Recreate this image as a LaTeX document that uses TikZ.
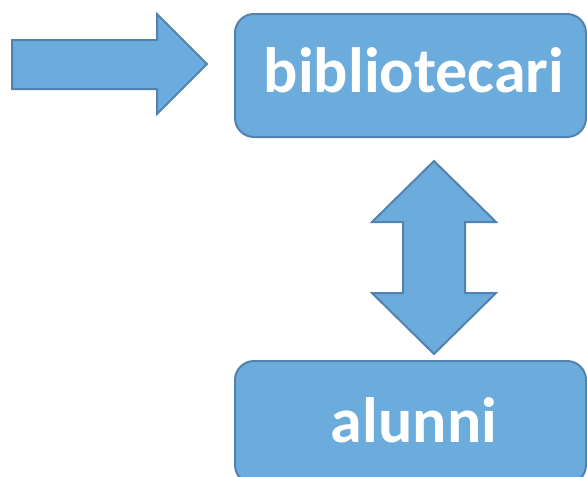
\documentclass[tikz,border=0pt]{standalone}
\usepackage{fontspec}
\setmainfont{Carlito}
\definecolor{boxfill}{RGB}{107,172,221}
\definecolor{boxline}{RGB}{82,131,176}
\begin{document}
\begin{tikzpicture}[x=1pt,y=-1pt,
  shapestyle/.style={fill=boxfill,draw=boxline,line width=2pt,line join=miter},
  boxstyle/.style={shapestyle,rounded corners=19pt,minimum width=351pt,minimum height=123pt,inner sep=0pt},
  labelstyle/.style={text=white,font=\bfseries\fontsize{64}{64}\selectfont,anchor=base,inner sep=0pt}]
\useasboundingbox (0,0) rectangle (587,477);
\node[boxstyle] (top) at (410.5,75.5) {};
\node[boxstyle] (bottom) at (410.5,422.5) {};
\node[labelstyle] (toplabel) at (414,92) {bibliotecari};
\node[labelstyle] (bottomlabel) at (414,442) {alunni};
% right arrow
\draw[shapestyle] (12,40) -- (157,40) -- (157,14) -- (207,64) -- (157,114) -- (157,89) -- (12,89) -- cycle;
% double vertical arrow
\draw[shapestyle] (434,161) -- (496,222) -- (465,222) -- (465,293) -- (496,293) -- (434,354)
  -- (372,293) -- (403,293) -- (403,222) -- (372,222) -- cycle;
\end{tikzpicture}
\end{document}
